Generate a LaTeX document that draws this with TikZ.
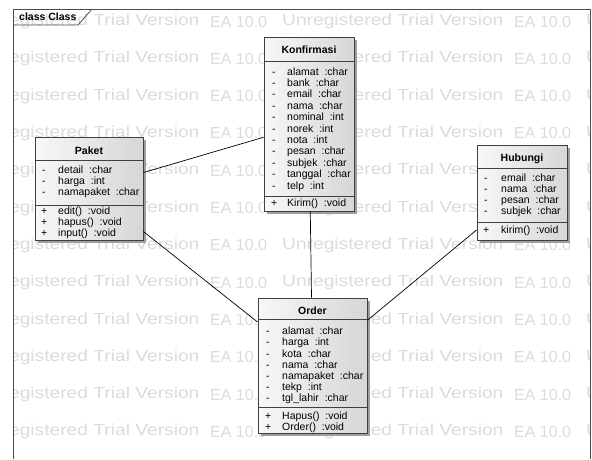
\documentclass[tikz,border=0pt]{standalone}
\usepackage{fontspec}
\setmainfont{Liberation Sans}
\usetikzlibrary{shadows}
\begin{document}
\begin{tikzpicture}[x=1pt,y=-1pt]
		\tikzstyle{cls}=[draw=black!75, line width=0.8pt, left color=black!3, right color=black!16, inner sep=0pt, drop shadow={shadow xshift=3pt, shadow yshift=-3pt, fill=black!38, opacity=1}]
		\tikzstyle{sep}=[draw=black!75, line width=0.8pt]
		\tikzstyle{head}=[font=\fontsize{10.5}{11}\selectfont\bfseries, inner sep=0pt]
		\tikzstyle{item}=[font=\fontsize{10.5}{11}\selectfont, anchor=west, inner sep=0pt, text height=7.5pt, text depth=2pt]
		\tikzstyle{wm}=[text=black!14, inner sep=0pt, anchor=west, font=\fontsize{16}{16}\selectfont]
		\tikzstyle{assoc}=[draw=black, line width=0.7pt]
		
		\useasboundingbox (0,0) rectangle (592,459);
		
		\begin{scope}
		\clip (13,9) rectangle (590,459);
		\foreach \k in {0,...,11} {
			\foreach \m in {0,1,2} {
				\node[wm] at (-22+304*\m, 21.5+37.3*\k) {\scalebox{1.2}[1]{Unregistered Trial Version}};
				\node[wm] at (210+304*\m, 21.5+37.3*\k) {EA 10.0};
			}
		}
		\end{scope}
		
		\draw[black!70, line width=0.8pt] (13,459) -- (13,9) -- (590,9) -- (590,459);
		\draw[black!70, line width=0.8pt] (13,25) -- (78,25) -- (92,9);
		\node[head, anchor=west] (frm) at (19,17) {class Class};
		
		\node[cls, minimum width=90pt, minimum height=174pt] (konfirmasi) at (309,124) {};
		\node[cls, minimum width=108pt, minimum height=103pt] (paket) at (89,188.5) {};
		\node[cls, minimum width=90pt, minimum height=95pt] (hubungi) at (522,192.5) {};
		\node[cls, minimum width=109pt, minimum height=135pt] (order) at (312.5,365.5) {};
		
		\draw[sep] (konfirmasi.north west) ++(0,25) -- ++(90,0);
		\draw[sep] (konfirmasi.south west) ++(0,-15) -- ++(90,0);
		\draw[sep] (paket.north west) ++(0,24) -- ++(108,0);
		\draw[sep] (paket.south west) ++(0,-35) -- ++(108,0);
		\draw[sep] (hubungi.north west) ++(0,24) -- ++(90,0);
		\draw[sep] (hubungi.south west) ++(0,-18) -- ++(90,0);
		\draw[sep] (order.north west) ++(0,22) -- ++(109,0);
		\draw[sep] (order.south west) ++(0,-26) -- ++(109,0);
		
		\node[head] at (konfirmasi.north) [yshift=-13pt] {Konfirmasi};
		\node[head] at (paket.north) [yshift=-14pt] {Paket};
		\node[head] at (hubungi.north) [yshift=-14pt] {Hubungi};
		\node[head] at (order.north) [yshift=-13pt] {Order};
		
		\foreach \t [count=\i] in {alamat~ :char, bank~ :char, email~ :char, nama~ :char, nominal~ :int, norek~ :int, nota~ :int, pesan~ :char, subjek~ :char, tanggal~ :char, telp~ :int} {
			\node[item] at (272,61+11.4*\i) {-};
			\node[item] at (287,61+11.4*\i) {\t};
		}
		\node[item] at (271,204) {+};
		\node[item] at (287,204) {Kirim()~ :void};
		
		\foreach \t [count=\i] in {detail~ :char, harga~ :int, namapaket~ :char} {
			\node[item] at (42,160+11*\i) {-};
			\node[item] at (58,160+11*\i) {\t};
		}
		\foreach \t [count=\i] in {edit()~ :void, hapus()~ :void, input()~ :void} {
			\node[item] at (41,201+11*\i) {+};
			\node[item] at (58,201+11*\i) {\t};
		}
		
		\foreach \t [count=\i] in {email~ :char, nama~ :char, pesan~ :char, subjek~ :char} {
			\node[item] at (484,168+11*\i) {-};
			\node[item] at (501,168+11*\i) {\t};
		}
		\node[item] at (483,231) {+};
		\node[item] at (501,231) {kirim()~ :void};
		
		\foreach \t [count=\i] in {alamat~ :char, harga~ :int, kota~ :char, nama~ :char, namapaket~ :char, tekp~ :int, tgl\_lahir~ :char} {
			\node[item] at (266,320.8+11.2*\i) {-};
			\node[item] at (282,320.8+11.2*\i) {\t};
		}
		\foreach \t [count=\i] in {Hapus()~ :void, Order()~ :void} {
			\node[item] at (265,406+11*\i) {+};
			\node[item] at (282,406+11*\i) {\t};
		}
		
		\draw[assoc] (paket) -- (konfirmasi);
		\draw[assoc] (paket) -- (order);
		\draw[assoc] (konfirmasi) -- (order);
		\draw[assoc] (hubungi) -- (order);
		
\end{tikzpicture}
\end{document}
